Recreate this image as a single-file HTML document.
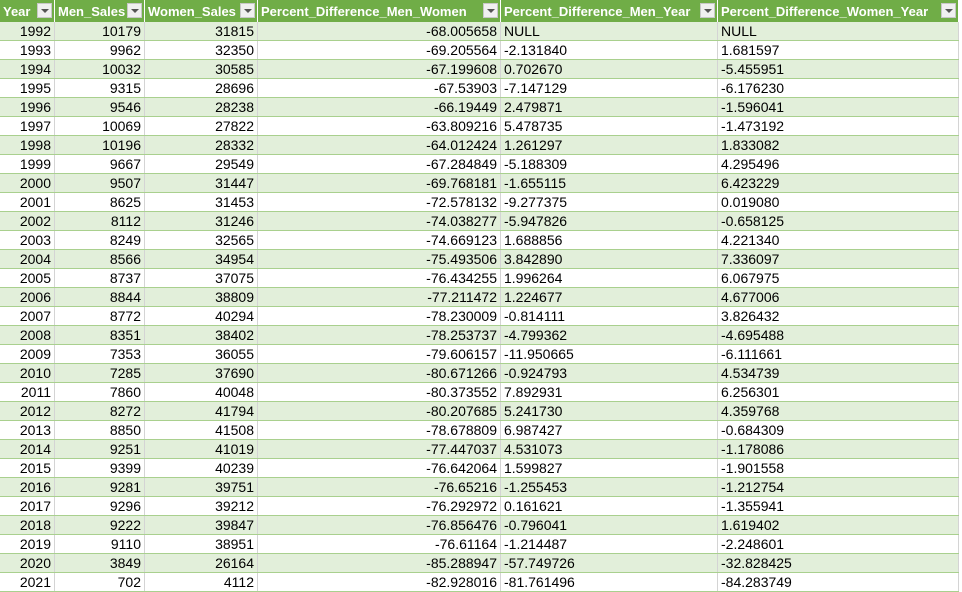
<!DOCTYPE html>
<html><head><meta charset="utf-8"><style>
body{margin:0;background:#fff;width:962px;height:591px;overflow:hidden;font-family:"Liberation Sans",Arial,sans-serif;}
#wrap{position:absolute;left:0;top:0;width:962px;height:591px;}
.hdr{position:absolute;top:0;height:22px;background:#70ad47;color:#fff;font-weight:bold;font-size:13px;line-height:23px;box-sizing:border-box;padding-left:3px;white-space:nowrap;overflow:hidden;border-right:1px solid #fff}
.flt{position:absolute;top:3px;right:2px;width:15px;height:15px;background:#f0f0f0;border:1px solid #c8c8c8;box-sizing:border-box;z-index:2}
.flt:after{content:"";position:absolute;left:3px;top:5px;border-left:4px solid transparent;border-right:4px solid transparent;border-top:4px solid #555}
.row{position:absolute;left:0;width:959px;height:19px;border-bottom:1px solid #a9d08e;box-sizing:border-box}
.cell{position:absolute;top:0;height:18px;font-size:14px;line-height:19px;color:#000;box-sizing:border-box;white-space:nowrap;border-right:1px solid #d4d4d4;padding:0 3px}
.r{text-align:right}
</style></head><body>
<div id="wrap"></div>
<script>
const years=[1992,1993,1994,1995,1996,1997,1998,1999,2000,2001,2002,2003,2004,2005,2006,2007,2008,2009,2010,2011,2012,2013,2014,2015,2016,2017,2018,2019,2020,2021];
const menSales=[10179,9962,10032,9315,9546,10069,10196,9667,9507,8625,8112,8249,8566,8737,8844,8772,8351,7353,7285,7860,8272,8850,9251,9399,9281,9296,9222,9110,3849,702];
const womenSales=[31815,32350,30585,28696,28238,27822,28332,29549,31447,31453,31246,32565,34954,37075,38809,40294,38402,36055,37690,40048,41794,41508,41019,40239,39751,39212,39847,38951,26164,4112];
const pctMenWomen=["-68.005658","-69.205564","-67.199608","-67.53903","-66.19449","-63.809216","-64.012424","-67.284849","-69.768181","-72.578132","-74.038277","-74.669123","-75.493506","-76.434255","-77.211472","-78.230009","-78.253737","-79.606157","-80.671266","-80.373552","-80.207685","-78.678809","-77.447037","-76.642064","-76.65216","-76.292972","-76.856476","-76.61164","-85.288947","-82.928016"];
const pctMenYear=["NULL","-2.131840","0.702670","-7.147129","2.479871","5.478735","1.261297","-5.188309","-1.655115","-9.277375","-5.947826","1.688856","3.842890","1.996264","1.224677","-0.814111","-4.799362","-11.950665","-0.924793","7.892931","5.241730","6.987427","4.531073","1.599827","-1.255453","0.161621","-0.796041","-1.214487","-57.749726","-81.761496"];
const pctWomenYear=["NULL","1.681597","-5.455951","-6.176230","-1.596041","-1.473192","1.833082","4.295496","6.423229","0.019080","-0.658125","4.221340","7.336097","6.067975","4.677006","3.826432","-4.695488","-6.111661","4.534739","6.256301","4.359768","-0.684309","-1.178086","-1.901558","-1.212754","-1.355941","1.619402","-2.248601","-32.828425","-84.283749"];
const headers=["Year","Men_Sales","Women_Sales","Percent_Difference_Men_Women","Percent_Difference_Men_Year","Percent_Difference_Women_Year"];
const colX=[0,55,145,258,501,718,959];
const names=["year","men-sales","women-sales","pct-diff-men-women","pct-diff-men-year","pct-diff-women-year"];
const wrap=document.getElementById('wrap');
headers.forEach((h,i)=>{
  const d=document.createElement('div');d.className='hdr';
  
  
  d.style.left=colX[i]+'px';d.style.width=(colX[i+1]-colX[i])+'px';
  d.textContent=h;
  const f=document.createElement('div');f.className='flt';
  
  
  d.appendChild(f);wrap.appendChild(d);
});
years.forEach((y,r)=>{
  const row=document.createElement('div');row.className='row';
  
  
  row.style.top=(22+r*19)+'px';
  row.style.background=(r%2==0)?'#e2efda':'#fff';
  const vals=[y,menSales[r],womenSales[r],pctMenWomen[r],pctMenYear[r],pctWomenYear[r]];
  vals.forEach((v,i)=>{
    const c=document.createElement('div');
    c.className='cell'+(i<4?' r':'');
    
    
    c.style.left=colX[i]+'px';c.style.width=(colX[i+1]-colX[i])+'px';
    c.textContent=v;row.appendChild(c);
  });
  wrap.appendChild(row);
});
</script>
</body></html>
